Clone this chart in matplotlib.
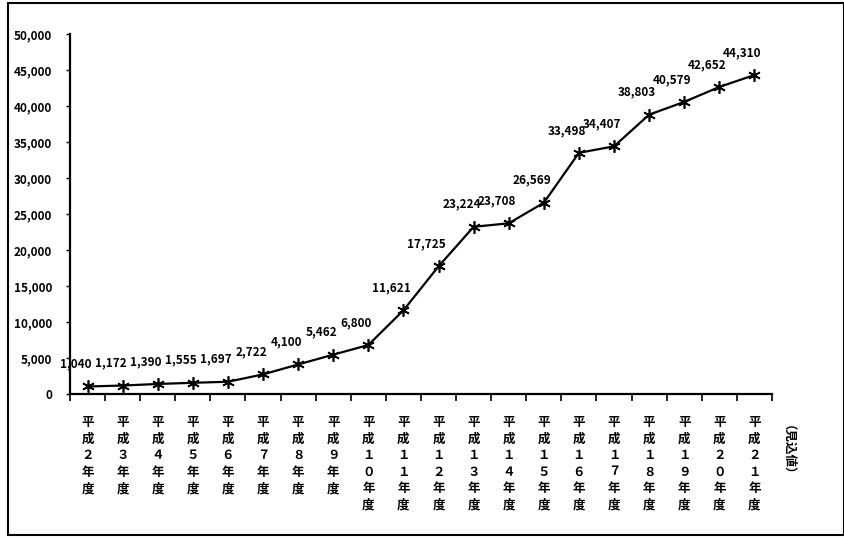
import matplotlib as mpl
mpl.use('agg')
import matplotlib.pyplot as plt
from matplotlib.patches import Rectangle

plt.rcParams['font.family'] = ['Noto Sans CJK JP', 'DejaVu Sans']

# fiscal years (Heisei 2 .. 21) and yearly totals
years = ['２', '３', '４', '５', '６', '７', '８', '９', '１０', '１１',
         '１２', '１３', '１４', '１５', '１６', '１７', '１８', '１９', '２０', '２１']
values = [1040, 1172, 1390, 1555, 1697, 2722, 4100, 5462, 6800, 11621,
          17725, 23224, 23708, 26569, 33498, 34407, 38803, 40579, 42652, 44310]
last_note = '（見込値）'
yticks = [0, 5000, 10000, 15000, 20000, 25000, 30000, 35000, 40000, 45000, 50000]

labels = ['\n'.join('平成' + y + '年度') for y in years]

fig = plt.figure(figsize=(8.45, 5.38), dpi=100)
ax = fig.add_axes([0.0828, 0.2677, 0.8308, 0.669])

x = list(range(len(values)))
ax.plot(x, values, color='black', linewidth=1.6, marker=(6, 2, 0),
        markersize=9, markeredgewidth=1.2, zorder=3)

for xi, v in zip(x, values):
    ax.annotate(f'{v:,}', (xi, v), textcoords='offset pixels',
                xytext=(-12, 16), ha='center', va='bottom',
                fontsize=8.5, fontweight='bold')

ax.set_xlim(-0.5, len(values) - 0.5)
ax.set_ylim(0, 50000)
ax.set_yticks(yticks)
ax.set_yticklabels([f'{t:,}' for t in yticks], fontsize=8.5, fontweight='bold')

# category boundaries carry the ticks, labels sit under each category
ax.set_xticks([i - 0.5 for i in range(len(values) + 1)])
ax.set_xticklabels([])
ax.set_xticks(x, minor=True)
ax.set_xticklabels(labels, minor=True, fontsize=9, fontweight='bold',
                   va='top', linespacing=1.35)
ax.tick_params(axis='x', which='minor', length=0, pad=16)
ax.tick_params(axis='x', which='major', direction='out', length=5, width=1.2)
ax.tick_params(axis='y', direction='out', length=3, width=1, pad=10)

for side in ['top', 'right']:
    ax.spines[side].set_visible(False)
for side in ['left', 'bottom']:
    ax.spines[side].set_linewidth(1.6)

fig.text(0.925, 0.21, last_note, rotation=-90, ha='center', va='top',
         fontsize=9, fontweight='bold')

fig.patches.append(Rectangle((0.009, 0.005), 0.99, 0.99, transform=fig.transFigure,
                             fill=False, edgecolor='black', linewidth=1.5))

fig.savefig('out.png', dpi=100)
